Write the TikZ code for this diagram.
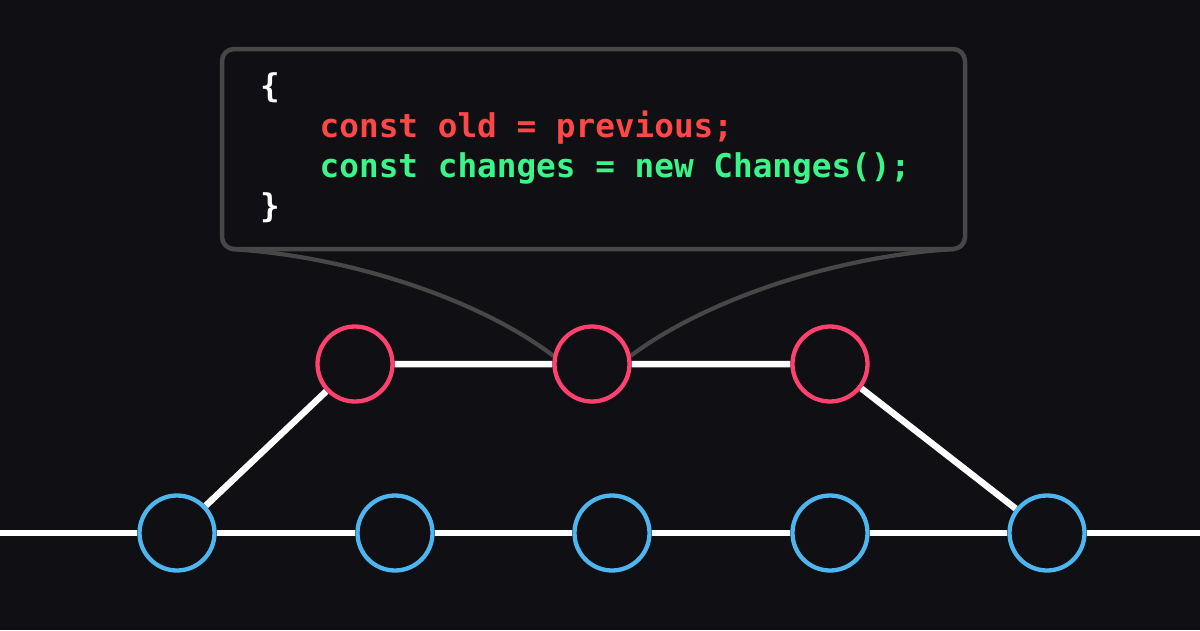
\documentclass[tikz,border=0pt]{standalone}
\usepackage{fontspec}
\newfontfamily\codefont{DejaVu Sans Mono}
\usetikzlibrary{calc}
\definecolor{bgc}{HTML}{0F0F14}
\definecolor{boxc}{HTML}{474747}
\definecolor{redtxt}{HTML}{FF4747}
\definecolor{greentxt}{HTML}{3CF58A}
\definecolor{pinkc}{HTML}{FF4170}
\definecolor{bluec}{HTML}{4DB6EF}
\pgfdeclarelayer{bgl}
\pgfdeclarelayer{linel}
\pgfsetlayers{bgl,linel,main}
\tikzset{
  commit/.style={circle, minimum size=75pt, inner sep=0pt, line width=4.3pt, fill=bgc},
  topc/.style={commit, draw=pinkc},
  botc/.style={commit, draw=bluec},
  branch/.style={white, line width=6.5pt},
  callout/.style={boxc, line width=4.2pt},
  codebox/.style={draw=boxc, line width=4.5pt, rounded corners=12pt, fill=bgc, minimum width=743pt, minimum height=200pt, inner sep=0pt},
  code/.style={anchor=base west, inner sep=0pt, font=\codefont\bfseries\fontsize{32.7}{40}\selectfont}
}
\begin{document}
\begin{tikzpicture}[x=1pt,y=-1pt]
\begin{pgfonlayer}{bgl}
\fill[bgc] (0,0) rectangle (1200,630);
\end{pgfonlayer}
\useasboundingbox (0,0) rectangle (1200,630);

\node[codebox] (box) at (593.5,149) {};
\node[code, white] (ob) at (260,97.5) {\{};
\node[code, redtxt] (l1) at (319.5,137.5) {const old = previous;};
\node[code, greentxt] (l2) at (319.5,177.5) {const changes = new Changes();};
\node[code, white] (cb) at (260,217.5) {\}};

\node[topc] (t1) at (355,364) {};
\node[topc] (t2) at (592,364) {};
\node[topc] (t3) at (830,364) {};

\node[botc] (b1) at (177,533) {};
\node[botc] (b2) at (395,533) {};
\node[botc] (b3) at (612,533) {};
\node[botc] (b4) at (830,533) {};
\node[botc] (b5) at (1047,533) {};

\coordinate (L) at (-5,533);
\coordinate (R) at (1205,533);
\coordinate (cs1) at (230,249);
\coordinate (cs2) at (955,249);

\begin{pgfonlayer}{linel}
\draw[branch] (L) -- (b1) -- (b2) -- (b3) -- (b4) -- (b5) -- (R);
\draw[branch] (b1) -- (t1) -- (t2) -- (t3) -- (b5);
\draw[callout] (cs1) .. controls (350,256) and (480,300) .. (t2.168);
\draw[callout] (cs2) .. controls (835,256) and (705,300) .. (t2.12);
\end{pgfonlayer}
\end{tikzpicture}
\end{document}
